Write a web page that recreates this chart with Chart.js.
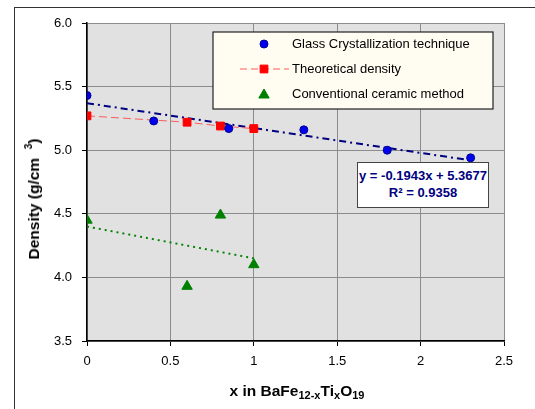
<!DOCTYPE html>
<html>
<head>
<meta charset="utf-8">
<script src="https://cdn.jsdelivr.net/npm/chart.js@4.4.1/dist/chart.umd.min.js"></script>
<style>
  html, body { margin: 0; padding: 0; background: #fff; overflow: hidden; }
  #wrap { position: relative; width: 535px; height: 409px; font-family: "Liberation Sans", Arial, sans-serif; }
  #frame { position: absolute; left: 14px; top: 7px; width: 540px; height: 420px; border: 1.5px solid #333; box-sizing: border-box; }
  canvas { position: absolute; left: 0; top: 0; }
  .xtitle { position: absolute; left: 0; width: 594px; top: 382px; text-align: center; font-weight: bold; font-size: 15.5px; color: #000; }
  .xtitle sub { font-size: 11px; vertical-align: -3px; }
  .ytitle { position: absolute; left: 33px; top: 199px; transform: translate(-50%, -50%) rotate(-90deg); white-space: nowrap; font-weight: bold; font-size: 15.5px; color: #000; }
  .ytitle sup { font-size: 10px; vertical-align: 7px; }
  .eq { position: absolute; left: 357px; top: 162px; width: 132px; height: 46px; box-sizing: border-box; background: #fff; border: 1.5px solid #444; color: #000080; font-weight: bold; font-size: 13px; text-align: center; line-height: 17px; padding-top: 4px; }
</style>
</head>
<body>
<div id="wrap">
  <div id="frame"></div>
  <canvas id="c" width="535" height="409"></canvas>
  <div class="ytitle">Density (g/cm &nbsp;<sup>3</sup>)</div>
  <div class="xtitle">x in BaFe<sub>12-x</sub>Ti<sub>x</sub>O<sub>19</sub></div>
  <div class="eq">y = -0.1943x + 5.3677<br>R² = 0.9358</div>
</div>
<script>
// data
const glassX = [0, 0.4, 0.85, 1.3, 1.8, 2.3];
const glassY = [5.43, 5.23, 5.17, 5.16, 5.00, 4.94];
const theoX = [0, 0.6, 0.8, 1.0];
const theoY = [5.27, 5.22, 5.19, 5.17];
const convX = [0, 0.6, 0.8, 1.0];
const convY = [4.45, 3.93, 4.49, 4.10];
const glassTrendX = [0, 2.3];
const glassTrendY = [5.37, 4.92];
const convTrendX = [0, 1.0];
const convTrendY = [4.40, 4.15];
const legendLabels = ['Glass Crystallization technique', 'Theoretical density', 'Conventional ceramic method'];

const pts = (xs, ys) => xs.map((x, i) => ({ x: x, y: ys[i] }));

// grey plot background
const bgPlugin = {
  id: 'plotBg',
  beforeDraw(chart) {
    const a = chart.chartArea, ctx = chart.ctx;
    ctx.save();
    ctx.fillStyle = '#e1e1e1';
    ctx.fillRect(a.left, a.top, a.right - a.left, a.bottom - a.top);
    ctx.restore();
  }
};

// legend box drawn inside the plot, top right
const legendPlugin = {
  id: 'boxLegend',
  afterDraw(chart) {
    const ctx = chart.ctx;
    const bx = 213, by = 32, bw = 280, bh = 77;
    const rows = [44, 69, 94];
    const mx = 264;
    ctx.save();
    ctx.fillStyle = '#fffcf2';
    ctx.fillRect(bx, by, bw, bh);
    ctx.strokeStyle = '#222';
    ctx.lineWidth = 1.2;
    ctx.strokeRect(bx, by, bw, bh);

    const ds = chart.data.datasets;
    // dashed line sample for the theoretical series
    ctx.strokeStyle = ds[1].borderColor;
    ctx.lineWidth = 1;
    ctx.setLineDash([7, 4]);
    ctx.beginPath();
    ctx.moveTo(240, rows[1]);
    ctx.lineTo(289, rows[1]);
    ctx.stroke();
    ctx.setLineDash([]);

    [0, 1, 2].forEach((k, i) => {
      const d = ds[k];
      ctx.fillStyle = d.pointBackgroundColor;
      ctx.strokeStyle = d.pointBorderColor;
      ctx.lineWidth = 1;
      Chart.helpers.drawPoint(ctx, { pointStyle: d.pointStyle, radius: d.pointRadius, borderWidth: 1, rotation: 0 },
        mx, rows[i] + (k === 2 ? 1 : 0));
    });
    ctx.font = '13px "Liberation Sans", Arial, sans-serif';
    ctx.fillStyle = '#000';
    ctx.textBaseline = 'middle';
    legendLabels.forEach((t, i) => ctx.fillText(t, 292, rows[i]));
    ctx.restore();
  }
};

const tickFont = { family: '"Liberation Sans", Arial, sans-serif', size: 13 };

new Chart(document.getElementById('c'), {
  type: 'scatter',
  data: {
    datasets: [
      {
        label: legendLabels[0],
        data: pts(glassX, glassY),
        pointStyle: 'circle', pointRadius: 4,
        pointBackgroundColor: '#0000ee', pointBorderColor: '#000090',
        borderWidth: 1, showLine: false, order: 1
      },
      {
        label: legendLabels[1],
        data: pts(theoX, theoY),
        pointStyle: 'rect', pointRadius: 5.5,
        pointBackgroundColor: '#ff0000', pointBorderColor: '#ff0000',
        borderColor: '#ff5a5a', borderWidth: 1, borderDash: [8, 4],
        showLine: true, order: 2
      },
      {
        label: legendLabels[2],
        data: pts(convX, convY),
        pointStyle: 'triangle', pointRadius: 6,
        pointBackgroundColor: '#008000', pointBorderColor: '#008000',
        borderWidth: 1, showLine: false, order: 1
      },
      {
        label: 'glass trend',
        data: pts(glassTrendX, glassTrendY),
        showLine: true, pointRadius: 0,
        borderColor: '#000080', borderWidth: 2, borderDash: [7, 4, 2, 4], order: 3
      },
      {
        label: 'ceramic trend',
        data: pts(convTrendX, convTrendY),
        showLine: true, pointRadius: 0,
        borderColor: '#008000', borderWidth: 2, borderDash: [2, 4], order: 3
      }
    ]
  },
  options: {
    responsive: false,
    animation: false,
    layout: { padding: { top: 23, right: 31, left: 0, bottom: 0 } },
    plugins: { legend: { display: false }, tooltip: { enabled: false } },
    scales: {
      x: {
        type: 'linear', min: 0, max: 2.5,
        afterFit: s => { s.height = 68; },
        ticks: { stepSize: 0.5, color: '#000', font: tickFont, padding: 8, maxRotation: 0,
                 callback: v => String(v) },
        grid: { color: '#8c8c8c', lineWidth: 1, tickLength: 5, tickColor: '#000' },
        border: { color: '#000', width: 1.5 }
      },
      y: {
        min: 3.5, max: 6.0,
        afterFit: s => { s.width = 87; },
        ticks: { stepSize: 0.5, color: '#000', font: tickFont, padding: 10,
                 callback: v => v.toFixed(1) },
        grid: { color: '#8c8c8c', lineWidth: 1, tickLength: 5, tickColor: '#000' },
        border: { color: '#000', width: 1.5 }
      }
    }
  },
  plugins: [bgPlugin, legendPlugin]
});
</script>
</body>
</html>
